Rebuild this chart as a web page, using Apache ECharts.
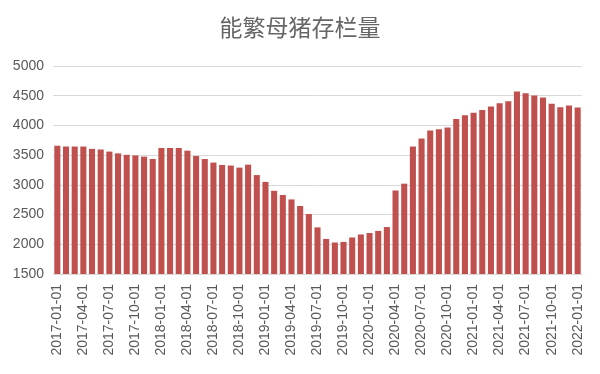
<!DOCTYPE html>
<html><head><meta charset="utf-8">
<script src="https://cdn.jsdelivr.net/npm/echarts@6/dist/echarts.min.js"></script>
<style>html,body{margin:0;padding:0;background:#fff}#c{width:600px;height:374px}</style>
</head><body><div id="c"></div>
<script>
const titleText = '能繁母猪存栏量';
const categories = [
  '2017-01-01','2017-02-01','2017-03-01','2017-04-01','2017-05-01','2017-06-01','2017-07-01','2017-08-01','2017-09-01','2017-10-01','2017-11-01','2017-12-01',
  '2018-01-01','2018-02-01','2018-03-01','2018-04-01','2018-05-01','2018-06-01','2018-07-01','2018-08-01','2018-09-01','2018-10-01','2018-11-01','2018-12-01',
  '2019-01-01','2019-02-01','2019-03-01','2019-04-01','2019-05-01','2019-06-01','2019-07-01','2019-08-01','2019-09-01','2019-10-01','2019-11-01','2019-12-01',
  '2020-01-01','2020-02-01','2020-03-01','2020-04-01','2020-05-01','2020-06-01','2020-07-01','2020-08-01','2020-09-01','2020-10-01','2020-11-01','2020-12-01',
  '2021-01-01','2021-02-01','2021-03-01','2021-04-01','2021-05-01','2021-06-01','2021-07-01','2021-08-01','2021-09-01','2021-10-01','2021-11-01','2021-12-01',
  '2022-01-01'
];
const values2017 = [3660,3645,3645,3645,3605,3595,3560,3530,3505,3495,3475,3435];
const values2018 = [3620,3620,3620,3575,3485,3435,3375,3335,3325,3290,3340,3165];
const values2019 = [3050,2900,2830,2755,2645,2510,2285,2090,2030,2040,2115,2165];
const values2020 = [2190,2225,2290,2905,3020,3645,3780,3915,3935,3965,4110,4170];
const values2021 = [4215,4260,4320,4375,4405,4570,4540,4505,4470,4365,4305,4335];
const values2022 = [4300];
const values = [].concat(values2017, values2018, values2019, values2020, values2021, values2022);

const chart = echarts.init(document.getElementById('c'), null, {renderer: 'canvas'});
chart.setOption({
  animation: false,
  backgroundColor: '#ffffff',
  title: {
    text: titleText, left: 'center', top: 11,
    textStyle: {color: '#666666', fontSize: 23, fontWeight: 'normal', fontFamily: 'Noto Sans CJK SC'}
  },
  grid: {left: 53, right: 18, top: 66, bottom: 100, containLabel: false},
  xAxis: {
    type: 'category', data: categories,
    axisLine: {show: true, lineStyle: {color: '#d9d9d9'}},
    axisTick: {show: false},
    axisLabel: {interval: 2, rotate: 90, margin: 10, color: '#595959', fontSize: 14, fontFamily: 'Liberation Sans'}
  },
  yAxis: {
    type: 'value', min: 1500, max: 5000, interval: 500,
    axisLine: {show: false}, axisTick: {show: false},
    splitLine: {lineStyle: {color: '#d9d9d9', width: 1}},
    axisLabel: {color: '#595959', fontSize: 14, margin: 9, fontFamily: 'Liberation Sans',
      formatter: function (v) { return String(v); }}
  },
  series: [{
    type: 'bar', data: values, barCategoryGap: '30%',
    itemStyle: {color: '#c0504d'}
  }]
});
</script></body></html>
